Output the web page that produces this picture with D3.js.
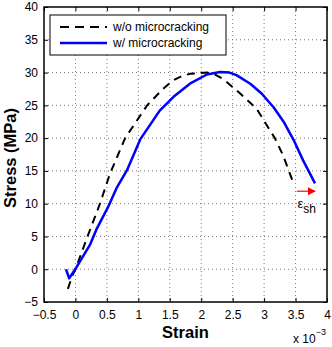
<!DOCTYPE html>
<html><head><meta charset="utf-8">
<script src="https://cdn.jsdelivr.net/npm/d3@7"></script>
<style>body{margin:0;background:#fff;} svg{display:block;font-family:"Liberation Sans",Arial,sans-serif;}</style>
</head><body>
<script>
// strain in units of 1e-3, stress in MPa
const woStrain = [-0.12, -0.05, 0.0, 0.2, 0.39, 0.55, 0.79, 1.14, 1.39, 1.55, 1.70, 1.82, 1.95, 2.09, 2.22, 2.35, 2.62, 2.88, 3.04, 3.17, 3.30, 3.46];
const woStress = [-3.0, -1.0, 0.0, 5.2, 10.0, 14.6, 20.0, 25.0, 27.5, 28.8, 29.5, 29.8, 29.9, 30.0, 29.7, 29.0, 26.8, 24.5, 22.0, 20.0, 17.4, 13.3];
const wStrain = [-0.15, -0.1, 0.02, 0.23, 0.34, 0.52, 0.66, 0.82, 1.03, 1.34, 1.56, 1.82, 2.09, 2.30, 2.45, 2.56, 2.78, 2.96, 3.15, 3.31, 3.47, 3.62, 3.81];
const wStress = [0.0, -1.4, 0.35, 3.7, 6.2, 9.5, 12.5, 15.1, 19.8, 24.2, 26.3, 28.3, 29.7, 30.1, 30.0, 29.6, 28.3, 26.8, 24.7, 22.5, 19.7, 16.6, 13.1];
const xTicks = [-0.5, 0, 0.5, 1, 1.5, 2, 2.5, 3, 3.5, 4];
const yTicks = [-5, 0, 5, 10, 15, 20, 25, 30, 35, 40];
const seriesNames = ["w/o microcracking", "w/ microcracking"];
const arrowStrain = [3.52, 3.81];
const arrowStress = 11.9;

const W = 332, H = 347;
const m = {l: 44, r: 5, t: 7, b: 45};
const svg = d3.select("body").append("svg").attr("width", W).attr("height", H);
const x = d3.scaleLinear().domain([-0.5, 4]).range([m.l, W - m.r]);
const y = d3.scaleLinear().domain([-5, 40]).range([H - m.b, m.t]);
const x0 = m.l, x1 = W - m.r, y0 = H - m.b, y1 = m.t;

// grid
const g = svg.append("g");
xTicks.slice(1, -1).forEach(t => g.append("line").attr("x1", x(t)).attr("x2", x(t)).attr("y1", y1).attr("y2", y0)
  .attr("stroke", "#777").attr("stroke-width", 1).attr("stroke-dasharray", "1,3"));
yTicks.slice(1, -1).forEach(t => g.append("line").attr("x1", x0).attr("x2", x1).attr("y1", y(t)).attr("y2", y(t))
  .attr("stroke", "#777").attr("stroke-width", 1).attr("stroke-dasharray", "1,3"));

// axes
const fmt = d => d < 0 ? "\u2212" + Math.abs(d) : String(d);
const ax = svg.append("g").attr("transform", `translate(0,${y0})`)
  .call(d3.axisBottom(x).tickValues(xTicks).tickFormat(fmt).tickSizeInner(-4).tickSizeOuter(0).tickPadding(8));
const ay = svg.append("g").attr("transform", `translate(${x0},0)`)
  .call(d3.axisLeft(y).tickValues(yTicks).tickFormat(fmt).tickSizeInner(-4).tickSizeOuter(0).tickPadding(6));
const axT = svg.append("g").attr("transform", `translate(0,${y1})`)
  .call(d3.axisTop(x).tickValues(xTicks).tickFormat("").tickSizeInner(-4).tickSizeOuter(0));
const ayR = svg.append("g").attr("transform", `translate(${x1},0)`)
  .call(d3.axisRight(y).tickValues(yTicks).tickFormat("").tickSizeInner(-4).tickSizeOuter(0));
[ax, ay, axT, ayR].forEach(a => {
  a.select(".domain").remove();
  a.selectAll("line").attr("stroke", "#000");
  a.selectAll("text").attr("font-size", 12).attr("fill", "#000").attr("font-family", "Liberation Sans, Arial, sans-serif");
});
svg.append("rect").attr("x", x0).attr("y", y1).attr("width", x1 - x0).attr("height", y0 - y1)
  .attr("fill", "none").attr("stroke", "#000").attr("stroke-width", 1.5);

// curves
const line = d3.line().x(d => x(d[0])).y(d => y(d[1]));
const woData = woStrain.map((s, i) => [s, woStress[i]]);
const wData = wStrain.map((s, i) => [s, wStress[i]]);
svg.append("path").attr("d", line(woData)).attr("fill", "none")
  .attr("stroke", "#000").attr("stroke-width", 2).attr("stroke-dasharray", "8,6").attr("stroke-linejoin", "round");
svg.append("path").attr("d", line(wData)).attr("fill", "none")
  .attr("stroke", "#0000ff").attr("stroke-width", 2.5).attr("stroke-linejoin", "round");

// arrow
svg.append("defs").append("marker").attr("id", "ah").attr("viewBox", "0 0 10 10").attr("refX", 9).attr("refY", 5)
  .attr("markerWidth", 8).attr("markerHeight", 8).attr("markerUnits", "userSpaceOnUse").attr("orient", "auto")
  .append("path").attr("d", "M0,0 L10,5 L0,10 Z").attr("fill", "#ff0000");
svg.append("line").attr("x1", x(arrowStrain[0])).attr("x2", x(arrowStrain[1])).attr("y1", y(arrowStress)).attr("y2", y(arrowStress))
  .attr("stroke", "#ff0000").attr("stroke-width", 1.2).attr("marker-end", "url(#ah)");
const eps = svg.append("text").attr("x", x(3.53)).attr("y", y(9.4)).attr("font-size", 13).attr("fill", "#000");
eps.append("tspan").text("\u03b5");
eps.append("tspan").attr("dy", 5).attr("font-size", 12).text("sh");

// legend
const lg = svg.append("g");
lg.append("rect").attr("x", 50).attr("y", 15).attr("width", 176).attr("height", 40).attr("fill", "#fff")
  .attr("stroke", "#000").attr("stroke-width", 1);
lg.append("line").attr("x1", 60).attr("x2", 107).attr("y1", 27).attr("y2", 27).attr("stroke", "#000")
  .attr("stroke-width", 2).attr("stroke-dasharray", "9,6");
lg.append("line").attr("x1", 60).attr("x2", 107).attr("y1", 43).attr("y2", 43).attr("stroke", "#0000ff").attr("stroke-width", 2.5);
lg.append("text").attr("x", 113).attr("y", 31).attr("font-size", 12).text(seriesNames[0]);
lg.append("text").attr("x", 113).attr("y", 47).attr("font-size", 12).text(seriesNames[1]);

// axis titles
svg.append("text").attr("x", (x0 + x1) / 2).attr("y", 338).attr("text-anchor", "middle")
  .attr("font-size", 16.5).attr("font-weight", "bold").text("Strain");
svg.append("text").attr("transform", `translate(16,158) rotate(-90)`).attr("text-anchor", "middle")
  .attr("font-size", 16.5).attr("font-weight", "bold").text("Stress (MPa)");
const sc = svg.append("text").attr("x", 293).attr("y", 343).attr("font-size", 12);
sc.append("tspan").text("x 10");
sc.append("tspan").attr("dy", -8).attr("font-size", 9).text("\u22123");
</script>
</body></html>
